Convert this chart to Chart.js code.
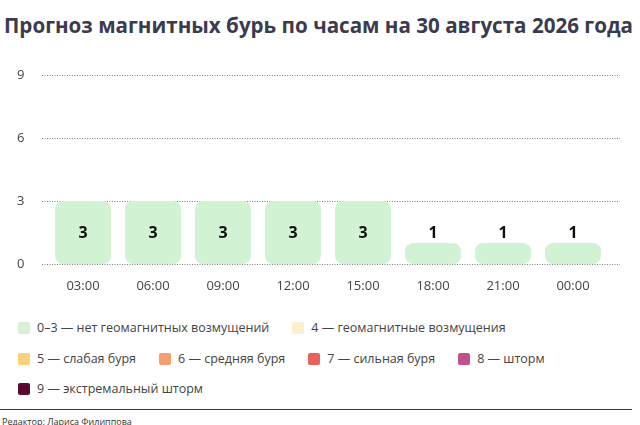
<!DOCTYPE html>
<html lang="ru">
<head>
<meta charset="utf-8">
<script src="https://cdn.jsdelivr.net/npm/chart.js@4.4.1/dist/chart.umd.min.js"></script>
<style>
  html, body { margin: 0; padding: 0; background: #fff; }
  body { width: 640px; height: 425px; position: relative; overflow: hidden; font-family: "Open Sans", sans-serif; }
  #title { position: absolute; left: 4px; top: 11px; margin: 0; font-size: 20.6px; font-weight: 700; color: #3b3b4d; white-space: nowrap; }
  #wrap { position: absolute; left: 0; top: 55px; width: 640px; height: 245px; }
  #legend { position: absolute; left: 18px; top: 319px; width: 600px; display: flex; flex-wrap: wrap; column-gap: 23px; row-gap: 12.5px; }
  .item { display: flex; align-items: center; font-size: 12.5px; color: #444; line-height: 18px; white-space: nowrap; }
  .box { width: 12px; height: 12px; border-radius: 2px; margin-right: 7px; }
  #rule { position: absolute; left: 0; top: 409px; width: 632px; height: 1px; background: #3a3a3a; }
  #editor { position: absolute; left: 2px; top: 415px; font-size: 9px; color: #333; }
</style>
</head>
<body>
<h1 id="title">Прогноз магнитных бурь по часам на 30 августа 2026 года</h1>
<div id="wrap"><canvas id="chart"></canvas></div>
<div id="legend"></div>
<div id="rule"></div>
<div id="editor">Редактор: Лариса Филиппова</div>
<script>
const hours = ['03:00', '06:00', '09:00', '12:00', '15:00', '18:00', '21:00', '00:00'];
const kIndex = [3, 3, 3, 3, 3, 1, 1, 1];
const yTicks = [0, 3, 6, 9];

const legendLabels = [
  '0–3 — нет геомагнитных возмущений',
  '4 — геомагнитные возмущения',
  '5 — слабая буря',
  '6 — средняя буря',
  '7 — сильная буря',
  '8 — шторм',
  '9 — экстремальный шторм'
];
const legendColors = ['#d6f0d6', '#fcf1cc', '#f8d27a', '#f59f70', '#e8625b', '#c2508c', '#5a0b2d'];

// legend
const legendEl = document.getElementById('legend');
legendLabels.forEach((txt, i) => {
  const item = document.createElement('div');
  item.className = 'item';
  item.innerHTML = '<span class="box" style="background:' + legendColors[i] + '"></span>' + txt;
  legendEl.appendChild(item);
});

// dotted grid lines slightly wider than the plot area
const dottedGrid = {
  id: 'dottedGrid',
  beforeDatasetsDraw(chart) {
    const { ctx, chartArea, scales } = chart;
    ctx.save();
    ctx.strokeStyle = '#7a7a7a';
    ctx.lineWidth = 1;
    ctx.setLineDash([1, 1.5]);
    scales.y.ticks.forEach((t, i) => {
      const y = Math.round(scales.y.getPixelForTick(i)) + 0.5;
      ctx.beginPath();
      ctx.moveTo(chartArea.left - 6, y);
      ctx.lineTo(chartArea.right + 12, y);
      ctx.stroke();
    });
    ctx.restore();
  }
};

// value labels: inside tall bars, above short ones
const valueLabels = {
  id: 'valueLabels',
  afterDatasetsDraw(chart) {
    const { ctx } = chart;
    const meta = chart.getDatasetMeta(0);
    ctx.save();
    ctx.font = 'bold 16px "Open Sans"';
    ctx.fillStyle = '#111';
    ctx.textAlign = 'center';
    meta.data.forEach((bar, i) => {
      const v = kIndex[i];
      if (v >= 2) {
        ctx.textBaseline = 'middle';
        ctx.fillText(v, bar.x, (bar.y + bar.base) / 2 + 1);
      } else {
        ctx.textBaseline = 'bottom';
        ctx.fillText(v, bar.x, bar.y - 2);
      }
    });
    ctx.restore();
  }
};

new Chart(document.getElementById('chart'), {
  type: 'bar',
  data: {
    labels: hours,
    datasets: [{
      data: kIndex,
      backgroundColor: '#d2f2d4',
      borderRadius: 8,
      borderSkipped: false,
      barPercentage: 0.8,
      categoryPercentage: 1
    }]
  },
  options: {
    responsive: true,
    maintainAspectRatio: false,
    animation: false,
    layout: { padding: { left: 17, right: 32, top: 20, bottom: 0 } },
    plugins: { legend: { display: false }, tooltip: { enabled: false } },
    scales: {
      x: {
        grid: { display: false, drawTicks: false },
        border: { display: false },
        ticks: { color: '#444', font: { family: 'Open Sans', size: 13 }, padding: 14 },
        afterFit(scale) { scale.height = 36; }
      },
      y: {
        min: 0,
        max: 9,
        afterBuildTicks(scale) { scale.ticks = yTicks.map(v => ({ value: v })); },
        grid: { display: false, drawTicks: false },
        border: { display: false },
        ticks: { color: '#444', font: { family: 'Open Sans', size: 13 }, crossAlign: 'far', padding: 0 },
        afterFit(scale) { scale.width = 31; }
      }
    }
  },
  plugins: [dottedGrid, valueLabels]
});
</script>
</body>
</html>
